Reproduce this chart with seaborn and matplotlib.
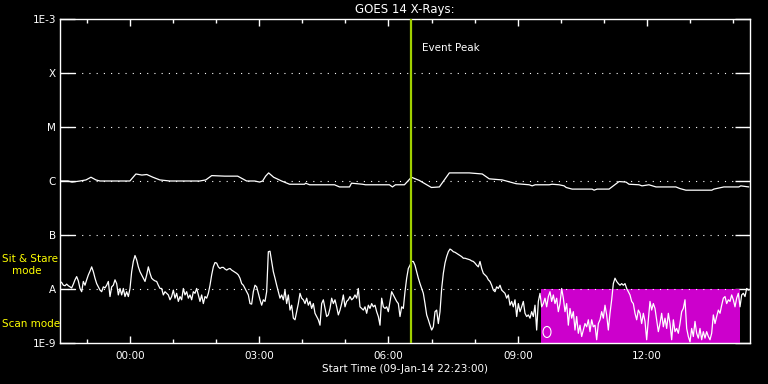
import numpy as np
import pandas as pd
import matplotlib
matplotlib.use("Agg")
import matplotlib.pyplot as plt
import matplotlib.dates as mdates
from matplotlib.patches import Ellipse
import seaborn as sns

# ---------------- data ----------------
START = "2014-01-09 22:23:00"
SPAN_HOURS = 16
EVENT_PEAK = "2014-01-10 06:32:00"
SCAN_START = "2014-01-10 09:32:00"
SCAN_END = "2014-01-10 14:09:00"

class_levels = [1e-9, 1e-8, 1e-7, 1e-6, 1e-5, 1e-4, 1e-3]
class_labels = ["1E-9", "A", "B", "C", "M", "X", "1E-3"]

# long channel (1-8 A): minutes after start, log10 flux
long_minutes = [0, 11.1, 16.7, 27.8, 36.1, 43.1, 50.0, 55.6, 76.4, 97.2,
                105.6, 113.9, 120.8, 129.2, 138.9, 152.8, 173.6, 194.4, 202.8, 211.1,
                229.2, 247.2, 259.7, 270.8, 277.8, 281.9, 286.1, 290.3, 297.2, 308.3,
                319.4, 340.3, 341.7, 347.2, 381.9, 388.9, 402.8, 405.6, 420.8, 425.0,
                458.3, 462.5, 466.7, 479.2, 488.9, 500.0, 516.7, 527.8, 541.7, 569.4,
                587.5, 597.2, 615.3, 634.7, 652.8, 656.9, 661.1, 680.6, 684.7, 694.4,
                701.4, 704.2, 712.5, 740.3, 743.1, 747.2, 763.9, 777.8, 787.5, 791.7,
                805.6, 809.7, 819.4, 829.2, 856.9, 862.5, 870.8, 906.9, 909.7, 916.7,
                923.6, 944.4, 947.2, 958.3]
long_log = [-6.00, -6.00, -6.02, -6.00, -5.98, -5.93, -5.98, -6.00, -6.00, -6.00,
            -5.87, -5.89, -5.88, -5.93, -5.98, -6.00, -6.00, -6.00, -5.98, -5.90,
            -5.91, -5.91, -6.00, -6.00, -6.02, -6.00, -5.91, -5.85, -5.93, -6.00,
            -6.06, -6.06, -6.04, -6.07, -6.07, -6.11, -6.11, -6.04, -6.06, -6.07,
            -6.07, -6.11, -6.07, -6.07, -5.93, -5.99, -6.12, -6.11, -5.85, -5.85,
            -5.87, -5.96, -5.98, -6.05, -6.07, -6.09, -6.07, -6.07, -6.06, -6.07,
            -6.09, -6.12, -6.15, -6.15, -6.17, -6.15, -6.15, -6.01, -6.02, -6.06,
            -6.07, -6.09, -6.07, -6.11, -6.11, -6.14, -6.17, -6.17, -6.15, -6.13,
            -6.11, -6.11, -6.09, -6.11]

# short channel (0.5-4 A): log10 flux at regular cadence over the 16 h span
short_log = [
    -7.86, -7.88, -7.93, -7.94, -7.91, -7.94, -7.96, -7.98, -7.91, -7.83,
    -7.77, -7.85, -7.99, -8.05, -7.86, -7.93, -7.83, -7.74, -7.67, -7.59,
    -7.68, -7.80, -7.90, -7.96, -8.02, -8.05, -7.96, -7.98, -7.93, -7.86,
    -8.14, -7.96, -7.93, -7.83, -7.90, -8.11, -7.99, -8.11, -7.99, -8.14,
    -8.05, -8.14, -7.99, -7.68, -7.49, -7.38, -7.46, -7.59, -7.68, -7.74,
    -7.80, -7.86, -7.74, -7.59, -7.71, -7.80, -7.83, -7.85, -7.86, -7.93,
    -7.99, -7.99, -8.11, -8.05, -8.08, -8.11, -8.20, -8.14, -8.02, -8.17,
    -8.08, -8.23, -8.14, -8.20, -7.99, -8.11, -8.05, -8.17, -8.11, -8.20,
    -8.05, -8.08, -7.99, -8.11, -8.23, -8.11, -8.27, -8.14, -8.17, -8.08,
    -7.93, -7.74, -7.59, -7.51, -7.52, -7.59, -7.62, -7.60, -7.60, -7.63,
    -7.65, -7.63, -7.62, -7.65, -7.67, -7.69, -7.71, -7.74, -7.80, -7.90,
    -7.93, -7.99, -8.05, -8.11, -8.27, -8.28, -8.05, -7.93, -7.96, -8.08,
    -8.20, -8.30, -8.20, -8.23, -8.05, -7.31, -7.30, -7.49, -7.68, -7.80,
    -7.93, -8.05, -8.17, -8.11, -8.20, -8.02, -8.27, -8.11, -8.39, -8.30,
    -8.54, -8.57, -8.42, -8.27, -8.08, -8.17, -8.20, -8.27, -8.17, -8.30,
    -8.23, -8.36, -8.27, -8.45, -8.51, -8.57, -8.67, -8.27, -8.20, -8.36,
    -8.51, -8.48, -8.36, -8.17, -8.27, -8.20, -8.33, -8.48, -8.39, -8.27,
    -8.11, -8.33, -8.23, -8.20, -8.14, -8.20, -8.17, -8.11, -8.17, -7.99,
    -8.33, -8.36, -8.39, -8.33, -8.45, -8.30, -8.36, -8.27, -8.33, -8.30,
    -8.42, -8.51, -8.67, -8.17, -8.33, -8.36, -8.33, -8.42, -8.23, -8.05,
    -8.11, -8.17, -8.23, -8.27, -8.51, -8.33, -8.36, -8.05, -7.80, -7.62,
    -7.56, -7.49, -7.49, -7.56, -7.68, -7.80, -7.90, -7.99, -8.08, -8.27,
    -8.48, -8.57, -8.67, -8.76, -8.70, -8.42, -8.39, -8.64, -8.42, -7.99,
    -7.71, -7.52, -7.40, -7.31, -7.26, -7.28, -7.31, -7.32, -7.34, -7.36,
    -7.38, -7.40, -7.43, -7.43, -7.44, -7.45, -7.46, -7.48, -7.49, -7.52,
    -7.56, -7.59, -7.49, -7.62, -7.71, -7.74, -7.77, -7.83, -7.86, -7.93,
    -8.02, -8.05, -7.96, -7.99, -7.93, -8.02, -8.05, -8.08, -8.17, -8.11,
    -8.30, -8.23, -8.33, -8.20, -8.51, -8.27, -8.42, -8.33, -8.23, -8.45,
    -8.51, -8.48, -8.54, -8.42, -8.51, -8.30, -8.76, -8.23, -8.08, -8.33,
    -8.27, -8.17, -8.33, -8.14, -8.05, -8.23, -8.11, -8.27, -8.17, -8.42,
    -8.27, -7.99, -8.17, -8.42, -8.27, -8.67, -8.36, -8.54, -8.42, -8.76,
    -8.51, -8.82, -8.67, -8.88, -8.76,
    -8.64, -8.70, -8.57, -8.79, -8.57, -8.70, -8.67, -8.94, -8.64, -8.57,
    -8.42, -8.54, -8.30, -8.48, -8.76, -8.45, -8.20, -7.90, -7.80, -7.86,
    -7.90, -7.93, -7.90, -7.93, -7.90, -7.99, -8.05, -8.11, -8.23, -8.27,
    -8.45, -8.57, -8.39, -8.45, -8.64, -8.45, -8.60, -8.94, -8.57, -8.23,
    -8.39, -8.27, -8.36, -8.57, -8.79, -8.64, -8.45, -8.70, -8.54, -8.73,
    -8.45, -8.64, -8.94, -8.57, -8.79, -8.73, -8.82, -8.64, -8.42, -8.36,
    -8.20, -8.73, -8.88, -8.98, -8.73, -8.88, -8.60, -8.82, -8.91, -8.73,
    -8.94, -8.79, -8.91, -8.79, -8.88, -8.94, -8.82, -8.48, -8.64, -8.51,
    -8.39, -8.45, -8.30, -8.17, -8.14, -8.27, -8.20, -8.23, -8.11, -8.20,
    -8.33, -8.17, -8.08, -8.33, -8.11, -8.08, -8.14, -7.99, -8.02, -8.01,
]

# ---------------- build frames ----------------
start = pd.Timestamp(START)
end = start + pd.Timedelta(hours=SPAN_HOURS)
long_df = pd.DataFrame({
    "time": start + pd.to_timedelta(long_minutes, unit="min"),
    "flux": np.power(10.0, long_log),
})
short_df = pd.DataFrame({
    "time": pd.date_range(start, end, periods=len(short_log)),
    "flux": np.power(10.0, short_log),
})

# ---------------- style ----------------
sns.set_style("dark", {"axes.facecolor": "black", "figure.facecolor": "black"})
plt.rcParams["font.family"] = ["DejaVu Sans"]
plt.rcParams["text.color"] = "white"

W, H = 768, 384
fig = plt.figure(figsize=(W / 100, H / 100), dpi=100, facecolor="black")
L, R, T, B = 60, 750, 19, 343
ax = fig.add_axes([L / W, 1 - B / H, (R - L) / W, (B - T) / H])
ax.set_facecolor("black")

# scan-mode region
ax.fill_between([pd.Timestamp(SCAN_START), pd.Timestamp(SCAN_END)],
                class_levels[0], class_levels[1],
                color="#cc00cc", lw=0, zorder=1)

# dotted class lines
for lev in class_levels[1:-1]:
    ax.axhline(lev, color="white", lw=0.8, ls=(0, (1, 5.5)), zorder=2)

sns.lineplot(data=long_df, x="time", y="flux", ax=ax, color="white",
             lw=0.9, estimator=None, sort=False, zorder=3)
sns.lineplot(data=short_df, x="time", y="flux", ax=ax, color="white",
             lw=0.9, estimator=None, sort=False, zorder=3)

# event peak line
ax.axvline(pd.Timestamp(EVENT_PEAK), color="#a0d000", lw=1.6, zorder=4)
ax.text(pd.Timestamp(EVENT_PEAK) + pd.Timedelta(minutes=14), 2.9e-4, "Event Peak",
        color="white", fontsize=7.5, va="center", ha="left")

# small "O" marker in scan region
ax.add_patch(Ellipse((0.7058, 0.034), 0.0116, 0.034, transform=ax.transAxes,
                     fill=False, edgecolor="white", lw=0.8, zorder=4))

# axes
ax.set_yscale("log")
ax.set_ylim(class_levels[0], class_levels[-1])
ax.set_xlim(start, end)
ax.set_yticks(class_levels)
ax.set_yticklabels(class_labels)
ax.yaxis.set_minor_locator(matplotlib.ticker.NullLocator())
ax.xaxis.set_major_locator(mdates.HourLocator(byhour=range(0, 24, 3)))
ax.xaxis.set_minor_locator(mdates.HourLocator())
ax.xaxis.set_major_formatter(mdates.DateFormatter("%H:%M"))

ax.tick_params(axis="y", which="major", direction="in", length=10.5, width=1,
               color="white", labelcolor="white", labelsize=7.5, pad=3,
               left=True, right=True)
ax.tick_params(axis="x", which="major", direction="in", length=5, width=1,
               color="white", labelcolor="white", labelsize=7.5, pad=6,
               bottom=True, top=True)
ax.tick_params(axis="x", which="minor", direction="in", length=2.8, width=1,
               color="white", bottom=True, top=True)
for s in ax.spines.values():
    s.set_color("white")
    s.set_linewidth(1)
    s.set_visible(True)
ax.grid(False)

ax.set_xlabel("Start Time (09-Jan-14 22:23:00)", color="white", fontsize=7.5, labelpad=2)
ax.set_ylabel("")
ax.set_title("GOES 14 X-Rays:", color="white", fontsize=8.5, pad=4)

# mode annotations
fig.text(2 / W, 1 - 259 / H, "Sit & Stare", color="#ffff00", fontsize=7.5, ha="left", va="center")
fig.text(12 / W, 1 - 271 / H, "mode", color="#ffff00", fontsize=7.5, ha="left", va="center")
fig.text(2 / W, 1 - 324 / H, "Scan mode", color="#ffff00", fontsize=7.5, ha="left", va="center")

fig.savefig("out.png", dpi=100, facecolor="black")
